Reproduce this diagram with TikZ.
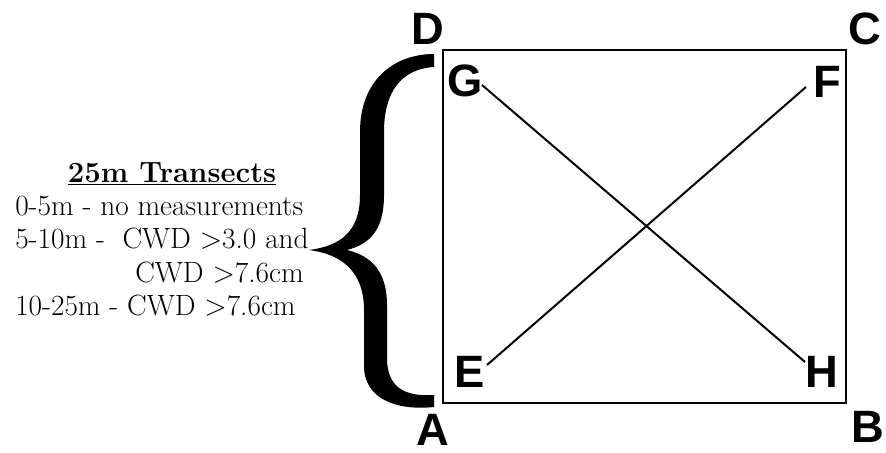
\documentclass[tikz,border=0pt]{standalone}
\usepackage{fontspec}
\newfontfamily\lettersf{Liberation Sans}
\begin{document}
\begin{tikzpicture}[x=0.75pt,y=-0.75pt,
  corner/.style={font=\lettersf\bfseries\fontsize{34}{34}\selectfont, inner sep=0pt},
  legend/.style={font=\fontsize{22}{26}\selectfont, inner sep=0pt, anchor=base west},
  frame/.style={line width=1.6pt},
  transect/.style={line width=1.5pt}]
\useasboundingbox (0,0) rectangle (886,453);

% plot outline
\draw[frame] (443,50) rectangle (846,403);

% corner labels
\node[corner] (D) at (428,29) {D};
\node[corner] (C) at (865,29) {C};
\node[corner] (A) at (433,430) {A};
\node[corner] (B) at (868,427) {B};

% transect end labels
\node[corner] (G) at (465,81) {G};
\node[corner] (F) at (827,82) {F};
\node[corner] (E) at (470,372) {E};
\node[corner] (H) at (822,372) {H};

% transects
\coordinate (g) at (482,85);
\coordinate (h) at (805,362);
\coordinate (e) at (487,365);
\coordinate (f) at (806,87);
\draw[transect] (g) -- (h);
\draw[transect] (e) -- (f);

% curly brace
\fill (434,54)
  .. controls (394,54) and (360,80) .. (360,132)
  -- (360,195)
  .. controls (360,232) and (340,246) .. (309,250)
  .. controls (340,254) and (364,270) .. (364,310)
  -- (364,366)
  .. controls (364,398) and (395,411) .. (434,407)
  -- (434,395)
  .. controls (403,397) and (387,386) .. (387,358)
  -- (387,305)
  .. controls (387,272) and (372,256) .. (347,250)
  .. controls (370,244) and (384,230) .. (384,195)
  -- (384,132)
  .. controls (384,92) and (401,69) .. (434,67)
  -- cycle;

% legend text
\node[legend,anchor=base] (title) at (172,182) {\textbf{\underline{25m Transects}}};
\node[legend] (l1) at (15,215) {0-5m - no measurements};
\node[legend] (l2) at (15,248) {5-10m -\ \ CWD >3.0 and};
\node[legend,anchor=base east] (l3) at (304,282) {CWD >7.6cm};
\node[legend] (l4) at (15,315) {10-25m - CWD >7.6cm};
\end{tikzpicture}
\end{document}
